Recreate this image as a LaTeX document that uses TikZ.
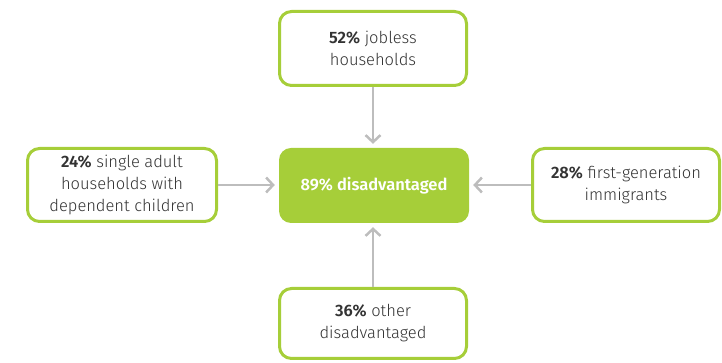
\documentclass[tikz,border=0pt]{standalone}
\usepackage{fontspec}
\setmainfont{Fira Sans}[UprightFont=* Light, BoldFont=* SemiBold]
\usetikzlibrary{arrows.meta}
\definecolor{lime}{HTML}{A6CE39}
\definecolor{txt}{HTML}{333333}
\definecolor{arr}{HTML}{BDBDBD}
\tikzset{
  x=1pt,y=1pt,
  box/.style={draw=lime, line width=3pt, rounded corners=12pt, fill=white,
    inner sep=0pt, align=center, text=txt, font=\fontsize{16.5}{22}\selectfont},
  mainbox/.style={fill=lime, rounded corners=12pt, inner sep=0pt, align=center,
    text=white, font=\fontsize{16.5}{22}\selectfont\bfseries},
  link/.style={draw=arr, line width=2.5pt, -{Straight Barb[length=7pt,width=15pt,line width=2.5pt]}}
}
\begin{document}
\begin{tikzpicture}
\useasboundingbox (0,0) rectangle (722,363);
\node[mainbox, minimum width=190pt, minimum height=75pt] (c) at (374,177.5) {89\% disadvantaged};
\node[box, minimum width=187pt, minimum height=74pt] (t) at (373,314.5) {\textbf{52\%} jobless\\households};
\node[box, minimum width=189pt, minimum height=73pt] (l) at (122,178) {\textbf{24\%} single adult\\households with\\dependent children};
\node[box, minimum width=187pt, minimum height=73pt] (r) at (626,178) {\textbf{28\%} first-generation\\immigrants};
\node[box, minimum width=187pt, minimum height=70pt] (b) at (373,39.5) {\textbf{36\%} other\\disadvantaged};
\draw[link] (t.south) -- ([yshift=4pt]c.north -| t.south);
\draw[link] (b.north) -- ([yshift=-4pt]c.south -| b.north);
\draw[link] (l.east) -- ([xshift=-4pt]c.west |- l.east);
\draw[link] (r.west) -- ([xshift=4pt]c.east |- r.west);
\end{tikzpicture}
\end{document}
